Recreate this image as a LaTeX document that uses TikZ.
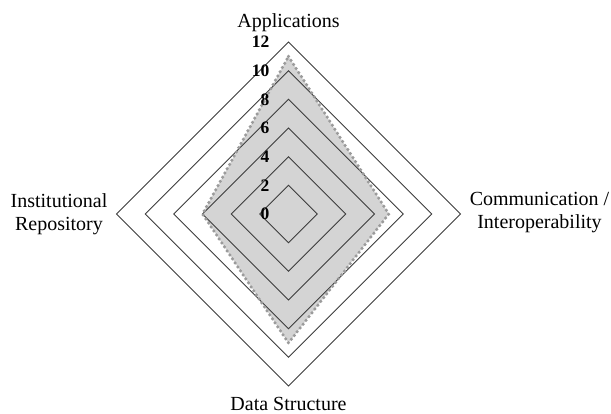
\documentclass[tikz,border=0pt]{standalone}
\usepackage{fontspec}
\setmainfont{Liberation Serif}
\definecolor{seriesfill}{RGB}{212,212,212}
\definecolor{seriesline}{RGB}{155,155,155}
\definecolor{gridline}{RGB}{60,60,60}
\begin{document}
\begin{tikzpicture}[x=1pt,y=-1pt,
  gridring/.style={draw=gridline,line width=0.9pt,line join=miter},
  seriesarea/.style={fill=seriesfill},
  seriesedge/.style={draw=seriesline,line width=3.5pt,line cap=round,dash pattern=on 0pt off 4.8pt},
  numlabel/.style={anchor=east,inner sep=0pt,font=\fontsize{17.5}{20}\selectfont\bfseries},
  catlabel/.style={inner sep=0pt,align=center,font=\fontsize{20}{23}\selectfont}]
\useasboundingbox (0,0) rectangle (611,414);
\def\cx{288.5}\def\cy{214}\def\u{14.33}
% series area
\coordinate (sA) at ({\cx},{\cy-11*\u});
\coordinate (sC) at ({\cx+7*\u},{\cy});
\coordinate (sD) at ({\cx},{\cy+9*\u});
\coordinate (sI) at ({\cx-6*\u},{\cy});
\fill[seriesarea] (sA) -- (sC) -- (sD) -- (sI) -- cycle;
% grid
\foreach \l in {2,4,...,12}
  \draw[gridring] ({\cx},{\cy-\l*\u}) -- ({\cx+\l*\u},{\cy}) -- ({\cx},{\cy+\l*\u}) -- ({\cx-\l*\u},{\cy}) -- cycle;
% series edge
\draw[seriesedge] (sA) -- (sC) -- (sD) -- (sI) -- cycle;
% value labels
\foreach \l in {0,2,...,12}
  \node[numlabel] (n\l) at (269.5,{\cy-\l*\u}) {\l};
% category labels
\node[catlabel,anchor=base] (app) at ({\cx},27.3) {Applications};
\node[catlabel,anchor=base] (ds) at ({\cx},410) {Data Structure};
\node[catlabel] (ir) at (59,214) {Institutional\\Repository};
\node[catlabel] (ci) at (539.5,213) {Communication /\\Interoperability};
\end{tikzpicture}
\end{document}
